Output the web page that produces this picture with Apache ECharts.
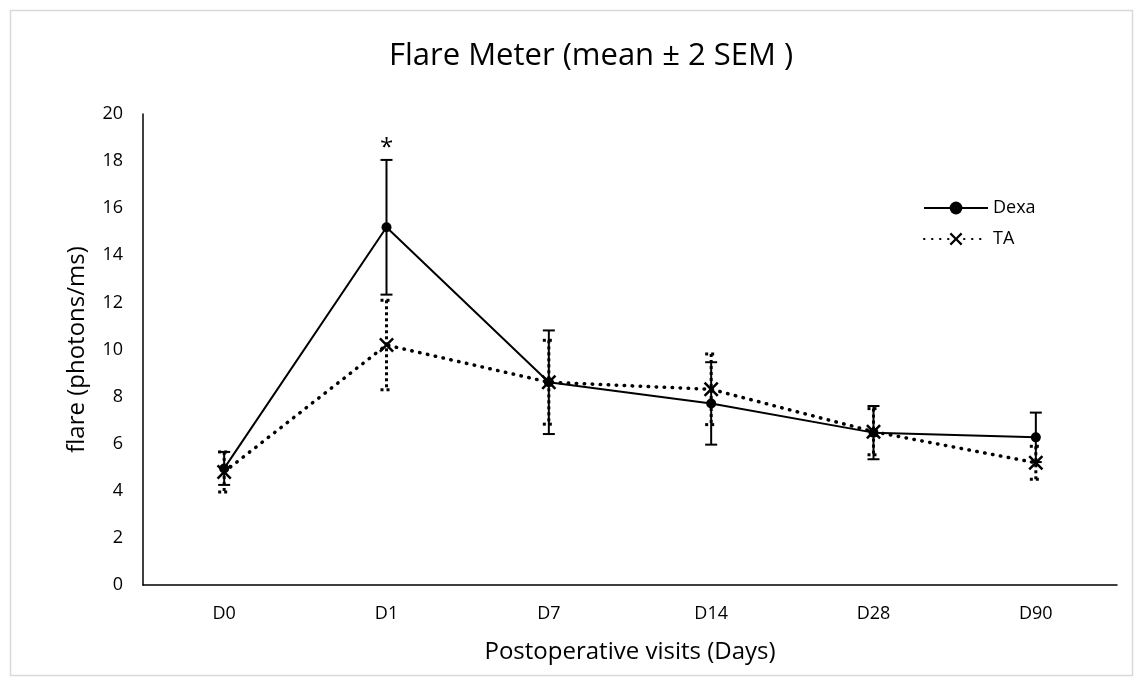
<!DOCTYPE html>
<html>
<head>
<meta charset="utf-8">
<script src="https://cdn.jsdelivr.net/npm/echarts@6/dist/echarts.min.js"></script>
<style>
  html, body { margin: 0; padding: 0; background: #fff; }
  #main { width: 1143px; height: 686px; }
</style>
</head>
<body>
<div id="main"></div>
<script>
// 数据
const visits = ['D0', 'D1', 'D7', 'D14', 'D28', 'D90'];
const dexaMean = [4.95, 15.19, 8.61, 7.71, 6.47, 6.27];
const dexaErr = [0.7, 2.86, 2.2, 1.75, 1.13, 1.05];
const taMean = [4.8, 10.19, 8.61, 8.31, 6.51, 5.19];
const taErr = [0.85, 1.9, 1.78, 1.5, 0.98, 0.7];
const yTicks = [0, 2, 4, 6, 8, 10, 12, 14, 16, 18, 20];

const font = '"Open Sans", sans-serif';
const xMark = 'path://M0,1.2 L1.2,0 L5,3.8 L8.8,0 L10,1.2 L6.2,5 L10,8.8 L8.8,10 L5,6.2 L1.2,10 L0,8.8 L3.8,5 Z';

const myChart = echarts.init(document.getElementById('main'));

// 误差线
function errorBars(mean, err, dashed) {
  return {
    type: 'custom',
    silent: true,
    z: 1,
    data: mean.map((m, i) => [i, m - err[i], m + err[i]]),
    renderItem: function (params, api) {
      const lo = api.coord([api.value(0), api.value(1)]);
      const hi = api.coord([api.value(0), api.value(2)]);
      const w = 6;
      const style = {
        stroke: '#000',
        lineWidth: dashed ? 3 : 2,
        lineDash: dashed ? [3, 3] : null
      };
      return {
        type: 'group',
        children: [
          { type: 'line', shape: { x1: hi[0], y1: hi[1], x2: lo[0], y2: lo[1] }, style: style },
          { type: 'line', shape: { x1: hi[0] - w, y1: hi[1], x2: hi[0] + w, y2: hi[1] }, style: style },
          { type: 'line', shape: { x1: lo[0] - w, y1: lo[1], x2: lo[0] + w, y2: lo[1] }, style: style }
        ]
      };
    }
  };
}

const option = {
  backgroundColor: '#fff',
  animation: false,
  title: {
    text: 'Flare Meter (mean ± 2 SEM )',
    left: 586,
    textAlign: 'center',
    top: 36,
    textStyle: { fontFamily: font, fontSize: 31, fontWeight: 'normal', color: '#000' }
  },
  graphic: [{
    type: 'rect',
    shape: { x: 10.5, y: 10.5, width: 1122, height: 665 },
    style: { fill: 'none', stroke: '#d9d9d9', lineWidth: 1.5 },
    silent: true
  }],
  legend: {
    data: ['Dexa', 'TA'],
    orient: 'vertical',
    left: 918,
    top: 194,
    itemWidth: 64,
    itemHeight: 16,
    itemGap: 13,
    textStyle: { fontFamily: font, fontSize: 18, color: '#000', lineHeight: 18 }
  },
  grid: { left: 143, right: 26, top: 114, bottom: 101 },
  xAxis: {
    type: 'category',
    data: visits,
    name: 'Postoperative visits (Days)',
    nameLocation: 'middle',
    nameGap: 55,
    nameTextStyle: { fontFamily: font, fontSize: 24, color: '#000' },
    axisLine: { lineStyle: { color: '#000', width: 1.5 } },
    axisTick: { show: false },
    axisLabel: { fontFamily: font, fontSize: 18, color: '#000', margin: 20 }
  },
  yAxis: {
    type: 'value',
    min: yTicks[0],
    max: yTicks[yTicks.length - 1],
    interval: 2,
    name: 'flare (photons/ms)',
    nameLocation: 'middle',
    nameGap: 54,
    nameTextStyle: { fontFamily: font, fontSize: 24, color: '#000' },
    axisLine: { show: true, lineStyle: { color: '#000', width: 1.5 } },
    axisTick: { show: false },
    splitLine: { show: false },
    axisLabel: { fontFamily: font, fontSize: 18, color: '#000', margin: 20 }
  },
  series: [
    errorBars(dexaMean, dexaErr, false),
    errorBars(taMean, taErr, true),
    {
      name: 'Dexa',
      type: 'line',
      data: dexaMean,
      z: 3,
      symbol: 'circle',
      symbolSize: 10,
      lineStyle: { color: '#000', width: 2 },
      itemStyle: { color: '#000' },
      markPoint: {
        symbol: 'circle',
        symbolSize: 0,
        data: [{ coord: ['D1', 18.55], value: '*' }],
        label: { show: true, formatter: '*', fontFamily: font, fontSize: 24, color: '#000' }
      }
    },
    {
      name: 'TA',
      type: 'line',
      data: taMean,
      z: 4,
      symbol: xMark,
      symbolSize: 15,
      lineStyle: { color: '#000', width: 3.5, type: [0.5, 7.5], cap: 'round' },
      itemStyle: { color: '#000' }
    }
  ]
};

myChart.setOption(option);
</script>
</body>
</html>
